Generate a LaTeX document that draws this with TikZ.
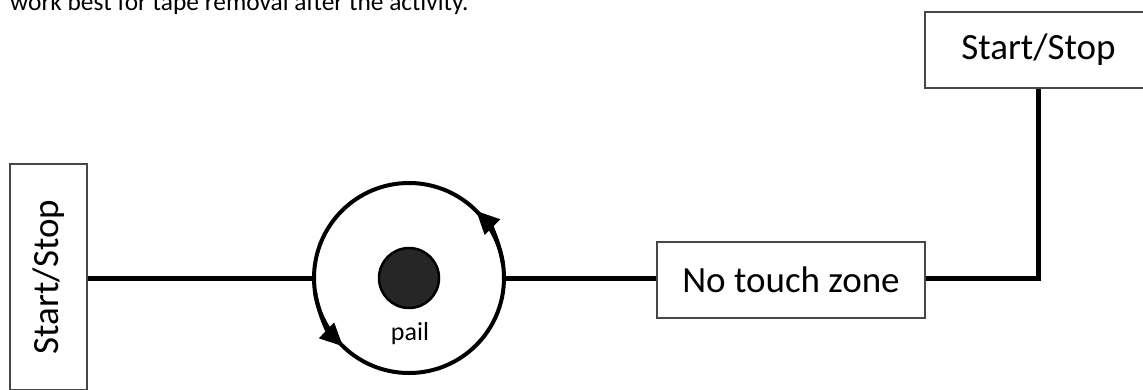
\documentclass[tikz,border=0pt]{standalone}
\usepackage{fontspec}
\setmainfont{Carlito}
\usetikzlibrary{arrows.meta}
\tikzset{
  box/.style={draw=black!72, line width=1.3pt, fill=white, inner sep=0pt, font=\fontsize{37}{44}\selectfont},
  wire/.style={line width=5pt, black},
  ring/.style={line width=4pt, black},
  tip/.style={-{Triangle[length=23pt,width=21pt]}}
}
\begin{document}
\begin{tikzpicture}[x=1pt,y=1pt]
\useasboundingbox (0,0) rectangle (1143,-389);
\clip (0,0) rectangle (1143,-389);
\node[anchor=base west, inner sep=0pt, font=\fontsize{25.4}{30}\selectfont] (note) at (10,-10) {work best for tape removal after the activity.};
\node[box, rotate=90, minimum width=226pt, minimum height=77pt] (left) at (48.5,-277) {Start/Stop};
\node[circle, ring, draw, minimum size=190pt, inner sep=0pt] (circ) at (409,-278) {};
\node[circle, draw=black, line width=2.5pt, fill=black!85, minimum size=60pt, inner sep=0pt] (dot) at (409,-278) {};
\node[font=\fontsize{26}{30}\selectfont, inner sep=0pt] (pail) at (410,-334) {pail};
\node[box, minimum width=268pt, minimum height=76pt] (ntz) at (791,-280) {No touch zone};
\node[box, minimum width=227pt, minimum height=76pt] (top) at (1038.5,-50) {Start/Stop};
\draw[ring, tip] ([shift={(8:95)}]circ.center) arc[start angle=8, end angle=45, radius=95];
\draw[ring, tip] ([shift={(188:95)}]circ.center) arc[start angle=188, end angle=226, radius=95];
\draw[wire] (left.south |- circ.west) -- (circ.west);
\draw[wire] (circ.east) -- (circ.east -| ntz.west);
\draw[wire] (ntz.east |- circ.east) -| (top.south);
\end{tikzpicture}
\end{document}
